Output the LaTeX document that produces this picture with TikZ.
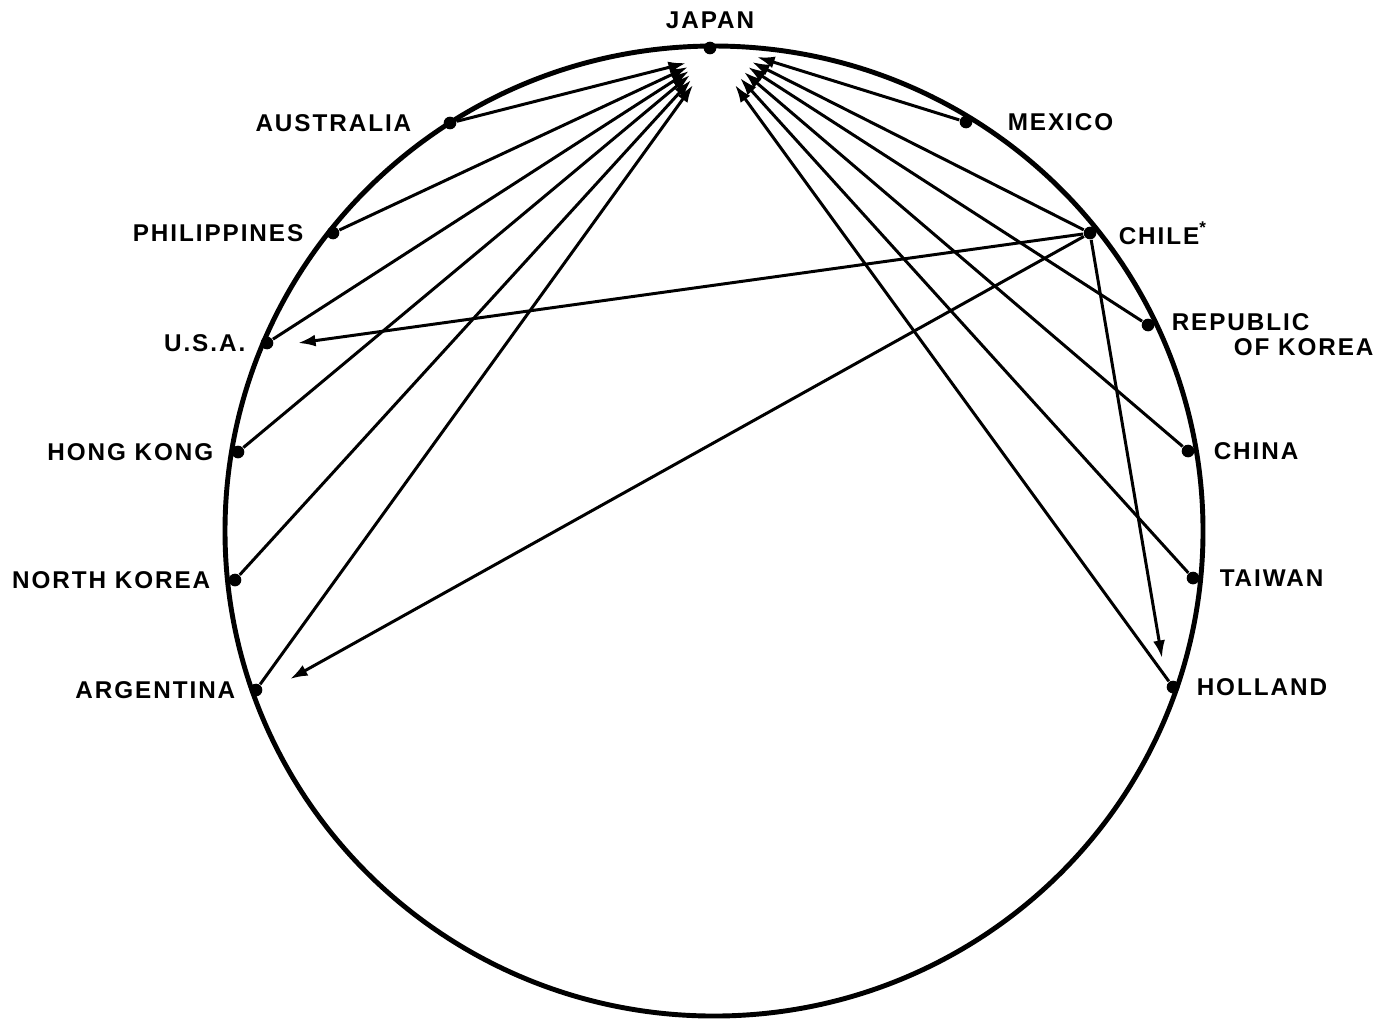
\documentclass[tikz,border=0pt]{standalone}
\usepackage{fontspec}
\newfontfamily\lblfont{Liberation Sans}[LetterSpace=8]
\usepackage{tikz}
\usetikzlibrary{arrows.meta,positioning}

\begin{document}
\begin{tikzpicture}[
  x=0.01cm,y=-0.01cm,
  every node/.style={font=\lblfont\bfseries\fontsize{6.9}{7.1}\selectfont,inner sep=0pt},
  dot/.style={circle,fill,minimum size=3.6pt},
  arr/.style={-{Latex[length=5pt,width=3.4pt]},line width=0.85pt}
]
\useasboundingbox (0,0) rectangle (1398,1023);
\draw[line width=1.4pt] (714,531) ellipse [x radius=489, y radius=485];

% countries on the rim
\node[dot] (japan) at (710,48) {};
\node[above=1.2mm of japan] {JAPAN};

\node[dot] (aus) at (450,123) {};
\node[dot] (phi) at (333,233) {};
\node[dot] (usa) at (267,343) {};
\node[dot] (hkg) at (238,452) {};
\node[dot] (nko) at (235,580) {};
\node[dot] (arg) at (256,690) {};
\node[left=3.1mm of aus] {AUSTRALIA};
\node[left=2.2mm of phi] {PHILIPPINES};
\node[left=1.4mm of usa] {U.S.A.};
\node[left=1.7mm of hkg] {HONG KONG};
\node[left=1.7mm of nko] {NORTH KOREA};
\node[left=1.3mm of arg] {ARGENTINA};

\node[dot] (mex) at (966,122) {};
\node[dot] (chl) at (1090,233) {};
\node[dot] (kor) at (1148,325) {};
\node[dot] (chn) at (1188,451) {};
\node[dot] (twn) at (1193,578) {};
\node[dot] (hol) at (1173,687) {};
\node[right=3.4mm of mex] {MEXICO};
\node[right=2.1mm of chl] {CHILE\textsuperscript{*}};
\node[right=1.6mm of kor,yshift=-1mm,align=left] {REPUBLIC\\\hspace*{6.2mm}OF KOREA};
\node[right=1.8mm of chn] {CHINA};
\node[right=1.9mm of twn] {TAIWAN};
\node[right=1.6mm of hol] {HOLLAND};

% arrow tips at Japan
\coordinate (jl1) at (686,63);
\coordinate (jl2) at (688,67);
\coordinate (jl3) at (689,71);
\coordinate (jl4) at (690,75);
\coordinate (jl5) at (691,80);
\coordinate (jl6) at (693,85);
\coordinate (jr1) at (757,57);
\coordinate (jr2) at (752,62);
\coordinate (jr3) at (748,67);
\coordinate (jr4) at (744,72);
\coordinate (jr5) at (740,78);
\coordinate (jr6) at (735,85);

\draw[arr] (aus) -- (jl1);
\draw[arr] (phi) -- (jl2);
\draw[arr] (usa) -- (jl3);
\draw[arr] (hkg) -- (jl4);
\draw[arr] (nko) -- (jl5);
\draw[arr] (arg) -- (jl6);
\draw[arr] (mex) -- (jr1);
\draw[arr] (chl) -- (jr2);
\draw[arr] (kor) -- (jr3);
\draw[arr] (chn) -- (jr4);
\draw[arr] (twn) -- (jr5);
\draw[arr] (hol) -- (jr6);

% exports from Chile
\coordinate (usaend) at (298,343);
\coordinate (argend) at (290,679);
\coordinate (holend) at (1162,658);
\draw[arr] (chl) -- (usaend);
\draw[arr] (chl) -- (argend);
\draw[arr] (chl) -- (holend);
\end{tikzpicture}
\end{document}
